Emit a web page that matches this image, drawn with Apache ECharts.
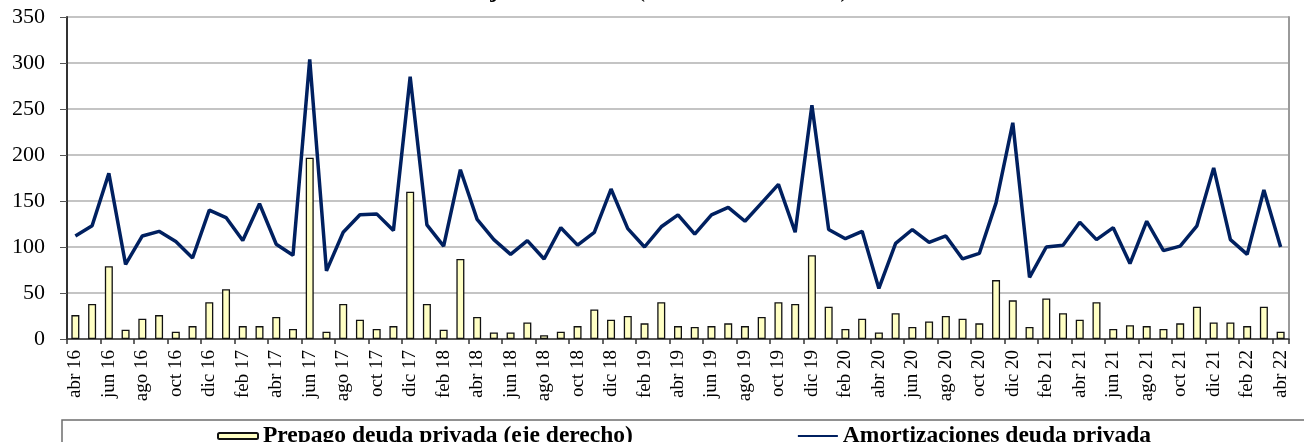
<!DOCTYPE html>
<html>
<head>
<meta charset="utf-8">
<script src="https://cdn.jsdelivr.net/npm/echarts@6/dist/echarts.min.js"></script>
<style>
  html, body { margin: 0; padding: 0; background: #ffffff; }
  #chart { width: 1304px; height: 442px; }
</style>
</head>
<body>
<div id="chart"></div>
<script>
// Months from abr 16 to abr 22
const months = [
  'abr 16','may 16','jun 16','jul 16','ago 16','sep 16','oct 16','nov 16','dic 16',
  'ene 17','feb 17','mar 17','abr 17','may 17','jun 17','jul 17','ago 17','sep 17','oct 17','nov 17','dic 17',
  'ene 18','feb 18','mar 18','abr 18','may 18','jun 18','jul 18','ago 18','sep 18','oct 18','nov 18','dic 18',
  'ene 19','feb 19','mar 19','abr 19','may 19','jun 19','jul 19','ago 19','sep 19','oct 19','nov 19','dic 19',
  'ene 20','feb 20','mar 20','abr 20','may 20','jun 20','jul 20','ago 20','sep 20','oct 20','nov 20','dic 20',
  'ene 21','feb 21','mar 21','abr 21','may 21','jun 21','jul 21','ago 21','sep 21','oct 21','nov 21','dic 21',
  'ene 22','feb 22','mar 22','abr 22'
];

// Prepago deuda privada (eje derecho), millones de dólares
const prepago = [
  26, 38, 79, 10, 22, 26, 8, 14, 40,
  54, 14, 14, 24, 11, 197, 8, 38, 21, 11, 14, 160,
  38, 10, 87, 24, 7, 7, 18, 4, 8, 14, 32, 21,
  25, 17, 40, 14, 13, 14, 17, 14, 24, 40, 38, 91,
  35, 11, 22, 7, 28, 13, 19, 25, 22, 17, 64, 42,
  13, 44, 28, 21, 40, 11, 15, 14, 11, 17, 35, 18,
  18, 14, 35, 8
];

// Amortizaciones deuda privada, millones de dólares
const amortizaciones = [
  112, 123, 180, 81, 112, 117, 106, 88, 140,
  132, 107, 147, 103, 91, 304, 74, 116, 135, 136, 118, 285,
  124, 101, 184, 130, 108, 92, 107, 87, 121, 102, 116, 163,
  120, 100, 122, 135, 114, 135, 143, 128, 148, 168, 116, 254,
  119, 109, 117, 55, 104, 119, 105, 112, 87, 93, 148, 235,
  67, 100, 102, 127, 108, 121, 82, 128, 96, 101, 123, 186,
  108, 92, 162, 100
];

const yTicks = [0, 50, 100, 150, 200, 250, 300, 350];

const serif = '"Liberation Serif", "Times New Roman", serif';
const navy = '#002060';

const chart = echarts.init(document.getElementById('chart'), null, { renderer: 'canvas' });

chart.setOption({
  animation: false,
  backgroundColor: '#ffffff',
  title: {
    text: 'Flujos mensuales (millones de dólares)',
    left: 'center',
    top: -21,
    padding: 0,
    textStyle: { fontFamily: serif, fontSize: 24, fontWeight: 'bold', color: '#000000' }
  },
  grid: { left: 67, right: 15, top: 17, bottom: 103, containLabel: false },
  legend: {
    left: 62,
    top: 420,
    width: 1100,
    padding: [4, 160, 20, 155],
    itemGap: 164,
    itemWidth: 40,
    itemHeight: 6,
    borderColor: '#6e6e6e',
    borderWidth: 1.5,
    textStyle: { fontFamily: serif, fontSize: 23.5, fontWeight: 'bold', color: '#000000' },
    data: [
      { name: 'Prepago deuda privada (eje derecho)' },
      { name: 'Amortizaciones deuda privada', itemStyle: { opacity: 0 } }
    ]
  },
  xAxis: {
    type: 'category',
    data: months,
    boundaryGap: true,
    axisLine: { show: true, lineStyle: { color: '#333333', width: 1.5 } },
    axisTick: { show: true, interval: 1, length: 5, lineStyle: { color: '#333333', width: 1.5 } },
    axisLabel: {
      interval: 1,
      rotate: 90,
      margin: 11,
      fontFamily: serif,
      fontSize: 19,
      color: '#000000'
    },
    splitLine: { show: false }
  },
  yAxis: [
    {
      type: 'value',
      min: yTicks[0],
      max: yTicks[yTicks.length - 1],
      interval: 50,
      axisLine: { show: true, lineStyle: { color: '#333333', width: 2 } },
      axisTick: { show: true, length: 7, lineStyle: { color: '#555555', width: 1 } },
      axisLabel: { margin: 22, fontFamily: serif, fontSize: 22, color: '#000000' },
      splitLine: { show: true, lineStyle: { color: '#b0b0b0', width: 1.5 } }
    },
    {
      type: 'value',
      position: 'right',
      min: yTicks[0],
      max: yTicks[yTicks.length - 1],
      interval: 50,
      axisLine: { show: true, lineStyle: { color: '#9a9a9a', width: 2 } },
      axisTick: { show: false },
      axisLabel: { show: false },
      splitLine: { show: false }
    }
  ],
  series: [
    {
      name: 'Prepago deuda privada (eje derecho)',
      type: 'bar',
      yAxisIndex: 1,
      data: prepago,
      barWidth: 8,
      itemStyle: { color: '#ffffc4', borderColor: '#111111', borderWidth: 1.3 }
    },
    {
      name: 'Amortizaciones deuda privada',
      type: 'line',
      yAxisIndex: 0,
      data: amortizaciones,
      symbol: 'none',
      showSymbol: false,
      lineStyle: { color: navy, width: 3.5 },
      itemStyle: { color: navy },
      z: 3
    }
  ]
});
</script>
</body>
</html>
